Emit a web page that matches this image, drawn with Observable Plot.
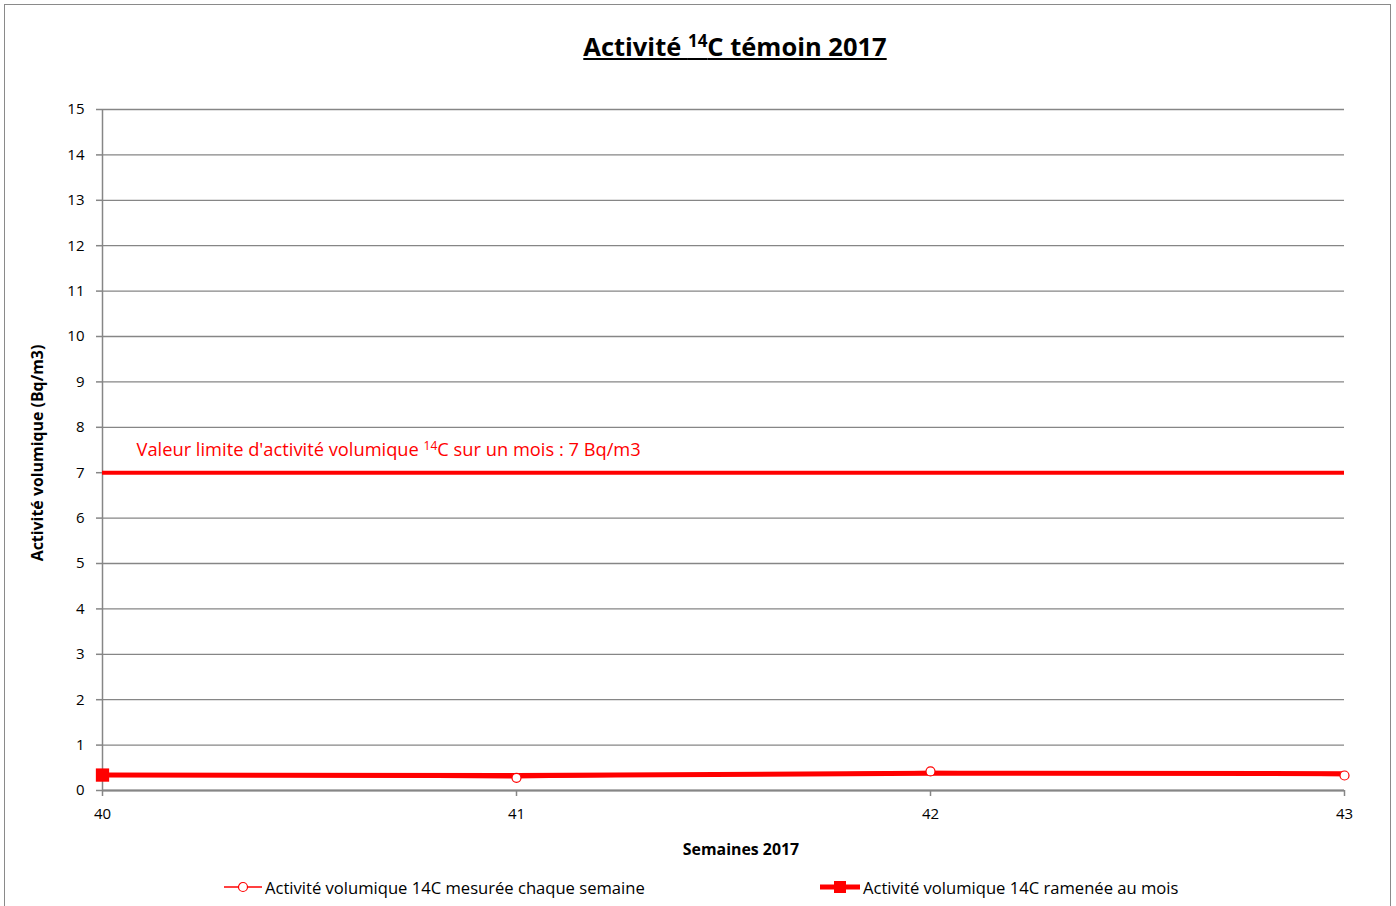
<!DOCTYPE html>
<html>
<head>
<meta charset="utf-8">
<script src="https://cdn.jsdelivr.net/npm/d3@7"></script>
<script src="https://cdn.jsdelivr.net/npm/@observablehq/plot@0.6"></script>
<style>
  html, body { margin: 0; padding: 0; background: #fff; }
  body { width: 1396px; height: 906px; position: relative; overflow: hidden; font-family: "Open Sans", Lato, sans-serif; }
  #frame { position: absolute; left: 4px; top: 4px; width: 1387px; height: 920px; border: 1px solid #8a8a8a; box-sizing: border-box; }
  #title { position: absolute; left: 0; width: 1470px; top: 29px; text-align: center; font-size: 25.5px; font-weight: bold; text-decoration: underline; color: #000; }
  #title sup { font-size: 17px; vertical-align: 9px; }
  #chart { position: absolute; left: 0; top: 0; }
  #ylabel { position: absolute; left: 37px; top: 453px; transform: translate(-50%, -50%) rotate(-90deg); white-space: nowrap; font-size: 15.9px; font-weight: bold; }
  #xlabel { position: absolute; left: 741px; top: 849px; transform: translate(-50%, -50%); white-space: nowrap; font-size: 15.9px; font-weight: bold; }
  .leg { position: absolute; top: 876px; height: 22px; display: flex; align-items: center; font-size: 16.6px; white-space: nowrap; }
  .leg svg { margin-right: 3px; }
</style>
</head>
<body>
<div id="frame"></div>
<div id="chart"></div>
<div id="title">Activité <sup>14</sup>C témoin 2017</div>
<div id="ylabel">Activité volumique (Bq/m3)</div>
<div id="xlabel">Semaines 2017</div>
<div class="leg" id="leg1" style="left:224px"></div>
<div class="leg" id="leg2" style="left:820px"></div>
<script>
// ---- data ----
const weeks = [40, 41, 42, 43];
const weeklyValues = [0.34, 0.28, 0.42, 0.33];   // mesurée chaque semaine
const monthlyValues = [0.34, 0.33, 0.38, 0.37];  // ramenée au mois
const limitValue = 7;
const yTicks = [0,1,2,3,4,5,6,7,8,9,10,11,12,13,14,15];
const xTicks = [40, 41, 42, 43];
const seriesNames = ["Activité volumique 14C mesurée chaque semaine", "Activité volumique 14C ramenée au mois"];
const limitLabel = "Valeur limite d'activité volumique 14C sur un mois : 7 Bq/m3";

const weekly = weeks.map((w, i) => ({week: w, value: weeklyValues[i]}));
const monthly = weeks.map((w, i) => ({week: w, value: monthlyValues[i]}));

const RED = "#ff0000";
const GRID = "#868686";

const chart = Plot.plot({
  width: 1396,
  height: 906,
  marginLeft: 102,
  marginRight: 52,
  marginTop: 109,
  marginBottom: 116,
  style: {fontFamily: "'Open Sans', Lato, sans-serif", fontSize: "15px", color: "#000", background: "transparent"},
  x: {domain: [40, 43], label: null},
  y: {domain: [0, 15], label: null},
  marks: [
    Plot.gridY(yTicks, {stroke: GRID, strokeOpacity: 1, strokeWidth: 1.3}),
    Plot.ruleX([40], {stroke: GRID, strokeWidth: 1.5}),
    Plot.ruleY([0], {stroke: GRID, strokeWidth: 2}),
    Plot.axisY(yTicks, {tickSize: 6, tickPadding: 12, stroke: GRID, strokeWidth: 1.5, fill: "#000", fontSize: 15, label: null}),
    Plot.axisX(xTicks, {tickSize: 6, tickPadding: 12, stroke: GRID, strokeWidth: 1.5, fill: "#000", fontSize: 15, tickFormat: d => String(d), label: null}),
    Plot.ruleY([limitValue], {stroke: RED, strokeWidth: 4}),
    Plot.text([limitLabel], {x: () => 40, y: () => 7.5, dx: 34, textAnchor: "start", fill: RED, fontSize: 18.3, className: "limit-label"}),
    Plot.line(monthly, {x: "week", y: "value", stroke: RED, strokeWidth: 5}),
    Plot.line(weekly, {x: "week", y: "value", stroke: RED, strokeWidth: 1.5}),
    Plot.dot(weekly, {x: "week", y: "value", r: 4.5, stroke: RED, fill: "white", strokeWidth: 1.2}),
    Plot.dot(monthly.slice(0, 1), {x: "week", y: "value", symbol: "square", r: 7.5, fill: RED, stroke: "none"})
  ]
});
document.getElementById("chart").appendChild(chart);

// superscript "14" in the limit label
d3.select(chart).selectAll("g.limit-label text").each(function() {
  const t = d3.select(this);
  const s = t.text();
  const i = s.indexOf("14C");
  t.text(null);
  t.append("tspan").text(s.slice(0, i));
  t.append("tspan").attr("font-size", 12).attr("dy", "-0.5em").text("14");
  t.append("tspan").attr("dy", "0.36em").text(s.slice(i + 2));
});

// legend
const leg1 = d3.select("#leg1");
const s1 = leg1.append("svg").attr("width", 38).attr("height", 12);
s1.append("line").attr("x1", 0).attr("x2", 38).attr("y1", 6).attr("y2", 6).attr("stroke", RED).attr("stroke-width", 1.5);
s1.append("circle").attr("cx", 19).attr("cy", 6).attr("r", 4.5).attr("fill", "white").attr("stroke", RED).attr("stroke-width", 1.2);
leg1.append("span").text(seriesNames[0]);

const leg2 = d3.select("#leg2");
const s2 = leg2.append("svg").attr("width", 40).attr("height", 14);
s2.append("line").attr("x1", 0).attr("x2", 40).attr("y1", 7).attr("y2", 7).attr("stroke", RED).attr("stroke-width", 5);
s2.append("rect").attr("x", 14).attr("y", 1).attr("width", 12).attr("height", 12).attr("fill", RED);
leg2.append("span").text(seriesNames[1]);
</script>
</body>
</html>
